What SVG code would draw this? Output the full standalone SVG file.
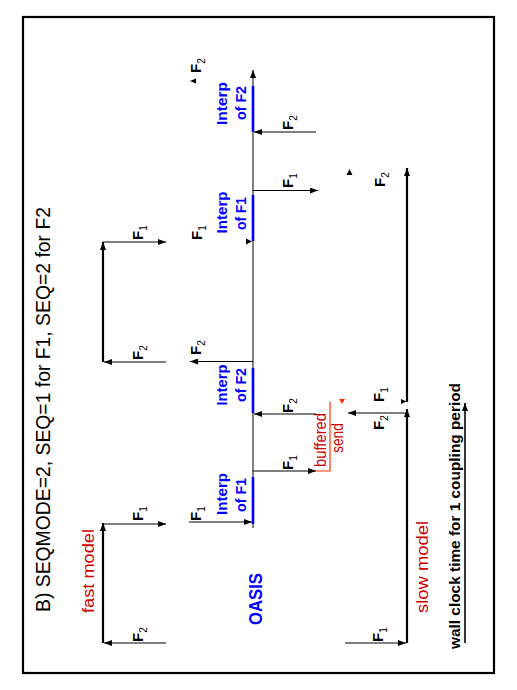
<svg xmlns="http://www.w3.org/2000/svg" width="517" height="690" viewBox="0 0 517 690">
<style>
.ln{stroke:#000;stroke-width:1;fill:none}
.thk{stroke:#000;stroke-width:2.2;fill:none}
.bar{stroke:#0000ff;stroke-width:2.6;fill:none}
.lab{font-family:"Liberation Sans",Arial,sans-serif;font-weight:bold;font-size:15px;fill:#000}
.sub{font-size:10px;font-weight:normal}
.blue{font-family:"Liberation Sans",Arial,sans-serif;font-weight:bold;font-size:15px;fill:#0000ff;text-anchor:middle}
.red{font-family:"Liberation Sans",Arial,sans-serif;font-size:16px;fill:#cc0000}
.head{fill:#000}
</style>
<defs>
<marker id="ah" markerUnits="userSpaceOnUse" markerWidth="8" markerHeight="6" refX="8" refY="3" orient="auto" viewBox="0 0 8 6">
<path d="M0,0 L8,3 L0,6 z" fill="#000"/>
</marker>
</defs>
<rect x="0" y="0" width="517" height="690" fill="#fff"/>
<g id="frame"><rect x="23" y="17" width="471" height="656" fill="none" stroke="#000" stroke-width="2.2"/></g>
<g id="title"><text transform="translate(50,612) rotate(-90)" font-family="Liberation Sans,Arial,sans-serif" font-size="20" textLength="405" lengthAdjust="spacingAndGlyphs">B) SEQMODE=2, SEQ=1 for F1, SEQ=2 for F2</text></g>

<g id="fast-model">
<line class="thk" x1="103" y1="643" x2="103" y2="523" marker-end="url(#ah)"/>
<line class="thk" x1="103" y1="362" x2="103" y2="242" marker-end="url(#ah)"/>
<text class="red" transform="translate(94,613) rotate(-90)" textLength="84" lengthAdjust="spacingAndGlyphs">fast model</text>
</g>

<g id="oasis">
<line class="ln" x1="253" y1="528" x2="253" y2="70" marker-end="url(#ah)"/>
<line class="bar" x1="253" y1="86" x2="253" y2="132"/>
<line class="bar" x1="253" y1="195" x2="253" y2="241"/>
<line class="bar" x1="253" y1="368" x2="253" y2="413"/>
<line class="bar" x1="253" y1="477" x2="253" y2="524"/>
<text class="blue" transform="translate(227,103.5) rotate(-90)" textLength="43" lengthAdjust="spacingAndGlyphs">Interp</text>
<text class="blue" transform="translate(246,103) rotate(-90)" textLength="34" lengthAdjust="spacingAndGlyphs">of F2</text>
<text class="blue" transform="translate(227,212.5) rotate(-90)" textLength="42" lengthAdjust="spacingAndGlyphs">Interp</text>
<text class="blue" transform="translate(246,213.5) rotate(-90)" textLength="33" lengthAdjust="spacingAndGlyphs">of F1</text>
<text class="blue" transform="translate(227,385) rotate(-90)" textLength="41" lengthAdjust="spacingAndGlyphs">Interp</text>
<text class="blue" transform="translate(246,385) rotate(-90)" textLength="34" lengthAdjust="spacingAndGlyphs">of F2</text>
<text class="blue" transform="translate(227,494) rotate(-90)" textLength="42" lengthAdjust="spacingAndGlyphs">Interp</text>
<text class="blue" transform="translate(246,495) rotate(-90)" textLength="34" lengthAdjust="spacingAndGlyphs">of F1</text>
<text transform="translate(262,625) rotate(-90)" font-family="Liberation Sans,Arial,sans-serif" font-weight="bold" font-size="19" fill="#0000ff" textLength="52" lengthAdjust="spacingAndGlyphs">OASIS</text>
</g>

<g id="slow-model">
<line class="thk" x1="407" y1="402" x2="407" y2="168" marker-end="url(#ah)"/>
<line class="thk" x1="407" y1="643" x2="407" y2="409" marker-end="url(#ah)"/>
<text class="red" transform="translate(428,613) rotate(-90)" textLength="92" lengthAdjust="spacingAndGlyphs">slow model</text>
</g>

<g id="buffer">
<polyline points="316,471 330,471 330,402" fill="none" stroke="#ff3300" stroke-width="1.2"/>
<polygon points="339,399 345,399 342,404" fill="#ff3300"/>
<text class="red" font-size="14" text-anchor="middle" transform="translate(326,440) rotate(-90)" textLength="54" lengthAdjust="spacingAndGlyphs">buffered</text>
<text class="red" font-size="14" text-anchor="middle" transform="translate(343,438) rotate(-90)" textLength="30" lengthAdjust="spacingAndGlyphs">send</text>
</g>

<g id="connectors">
<line class="ln" x1="166" y1="643" x2="104" y2="643" marker-end="url(#ah)"/>
<line class="ln" x1="103" y1="524" x2="166" y2="524" marker-end="url(#ah)"/>
<line class="ln" x1="166" y1="362" x2="104" y2="362" marker-end="url(#ah)"/>
<line class="ln" x1="103" y1="242" x2="166" y2="242" marker-end="url(#ah)"/>
<line class="ln" x1="189" y1="522" x2="252" y2="522" marker-end="url(#ah)"/>
<line class="ln" x1="253" y1="361.5" x2="190" y2="361.5" marker-end="url(#ah)"/>
<line class="ln" x1="316" y1="132" x2="254" y2="132" marker-end="url(#ah)"/>
<line class="ln" x1="253" y1="190.5" x2="318" y2="190.5" marker-end="url(#ah)"/>
<line class="ln" x1="316" y1="414" x2="254" y2="414" marker-end="url(#ah)"/>
<line class="ln" x1="253" y1="471" x2="316" y2="471" marker-end="url(#ah)"/>
<line class="ln" x1="407" y1="413" x2="348" y2="413" marker-end="url(#ah)"/>
<line class="ln" x1="345" y1="643" x2="406" y2="643" marker-end="url(#ah)"/>
<polygon class="head" points="246,238.5 252,241.5 246,244.5"/>
<polygon class="head" points="190,81 196,78.5 196,83.5"/>
<polygon class="head" points="349.5,169 352.5,175 346.5,175"/>
<polygon class="head" points="401,399 406.5,401.5 401,404"/>
</g>

<g id="labels">
<text class="lab" transform="translate(143,642) rotate(-90)">F<tspan class="sub" dy="4">2</tspan></text>
<text class="lab" transform="translate(143,521) rotate(-90)">F<tspan class="sub" dy="4">1</tspan></text>
<text class="lab" transform="translate(143,360) rotate(-90)">F<tspan class="sub" dy="4">2</tspan></text>
<text class="lab" transform="translate(143,240) rotate(-90)">F<tspan class="sub" dy="4">1</tspan></text>
<text class="lab" transform="translate(202,240) rotate(-90)">F<tspan class="sub" dy="4">1</tspan></text>
<text class="lab" transform="translate(201,355) rotate(-90)">F<tspan class="sub" dy="4">2</tspan></text>
<text class="lab" transform="translate(201,521) rotate(-90)">F<tspan class="sub" dy="4">1</tspan></text>
<text class="lab" transform="translate(201,73) rotate(-90)">F<tspan class="sub" dy="4">2</tspan></text>
<text class="lab" transform="translate(293,130) rotate(-90)">F<tspan class="sub" dy="4">2</tspan></text>
<text class="lab" transform="translate(293,188) rotate(-90)">F<tspan class="sub" dy="4">1</tspan></text>
<text class="lab" transform="translate(385,187) rotate(-90)">F<tspan class="sub" dy="4">2</tspan></text>
<text class="lab" transform="translate(293,413) rotate(-90)">F<tspan class="sub" dy="4">2</tspan></text>
<text class="lab" transform="translate(293,470) rotate(-90)">F<tspan class="sub" dy="4">1</tspan></text>
<text class="lab" transform="translate(384,402) rotate(-90)">F<tspan class="sub" dy="4">1</tspan></text>
<text class="lab" transform="translate(384,430) rotate(-90)">F<tspan class="sub" dy="4">2</tspan></text>
<text class="lab" transform="translate(383,642) rotate(-90)">F<tspan class="sub" dy="4">1</tspan></text>
</g>

<g id="wall-clock">
<line x1="465" y1="643" x2="465" y2="403" stroke="#000" stroke-width="1.6" marker-end="url(#ah)"/>
<text transform="translate(460,649) rotate(-90)" font-family="Liberation Sans,Arial,sans-serif" font-weight="bold" font-size="15" textLength="266" lengthAdjust="spacingAndGlyphs">wall clock time for 1 coupling period</text>
</g>
</svg>
